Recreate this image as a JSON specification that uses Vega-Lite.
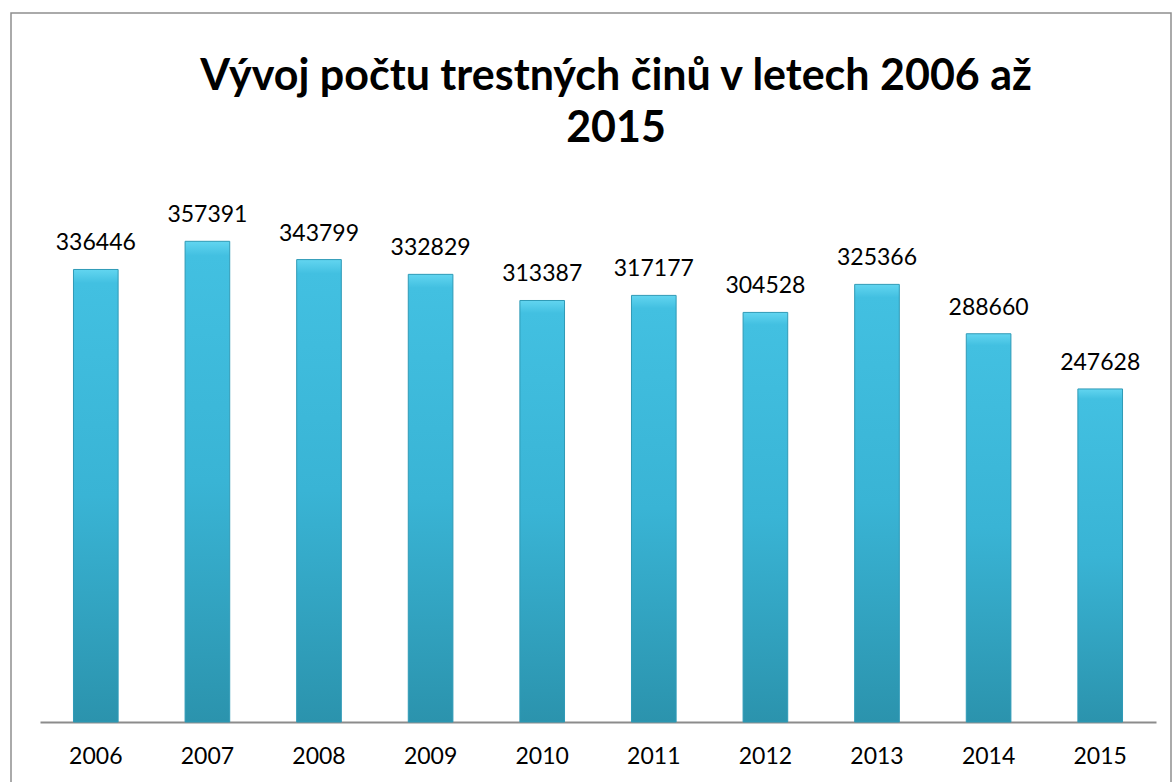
{
  "$schema": "https://vega.github.io/schema/vega-lite/v6.json",
  "width": 1160,
  "height": 790,
  "autosize": {"type": "none"},
  "padding": {"left": 11, "top": 13, "right": 1, "bottom": 0},
  "background": "white",
  "title": {
    "text": ["Vývoj počtu trestných činů v letech 2006 až", "2015"],
    "font": "Lato",
    "fontSize": 43,
    "fontWeight": "bold",
    "lineHeight": 52,
    "color": "#000000",
    "anchor": "middle",
    "frame": "group",
    "dx": 25,
    "offset": -138
  },
  "data": {
    "values": [
      {"year": "2006", "count": 336446},
      {"year": "2007", "count": 357391},
      {"year": "2008", "count": 343799},
      {"year": "2009", "count": 332829},
      {"year": "2010", "count": 313387},
      {"year": "2011", "count": 317177},
      {"year": "2012", "count": 304528},
      {"year": "2013", "count": 325366},
      {"year": "2014", "count": 288660},
      {"year": "2015", "count": 247628}
    ]
  },
  "encoding": {
    "x": {
      "field": "year",
      "type": "ordinal",
      "scale": {"paddingInner": 0.6, "paddingOuter": 0.3, "range": [29, 1145]},
      "axis": {
        "title": null,
        "labelAngle": 0,
        "labelFont": "Lato",
        "labelFontSize": 23,
        "labelColor": "#000000",
        "labelPadding": 23,
        "ticks": false,
        "domainColor": "#8c8c8c",
        "domainWidth": 2,
        "grid": false,
        "offset": -81
      }
    },
    "y": {
      "field": "count",
      "type": "quantitative",
      "scale": {"domain": [0, 400000], "nice": false, "range": [709, 171]},
      "axis": null
    }
  },
  "layer": [
    {
      "mark": {
        "type": "bar",
        "color": {
          "gradient": "linear",
          "x1": 0, "y1": 0, "x2": 0, "y2": 1,
          "stops": [
            {"offset": 0, "color": "#62d5f0"},
            {"offset": 0.03, "color": "#42c0e1"},
            {"offset": 0.5, "color": "#39b4d5"},
            {"offset": 1, "color": "#2b93ad"}
          ]
        },
        "stroke": "#2f9ab6",
        "strokeWidth": 1
      }
    },
    {
      "mark": {
        "type": "text",
        "baseline": "alphabetic",
        "dy": -19,
        "font": "Lato",
        "fontSize": 23,
        "color": "#000000"
      },
      "encoding": {"text": {"field": "count", "type": "quantitative", "format": "d"}}
    }
  ],
  "config": {"view": {"stroke": "#8e8e8e", "strokeWidth": 1.5}}
}
